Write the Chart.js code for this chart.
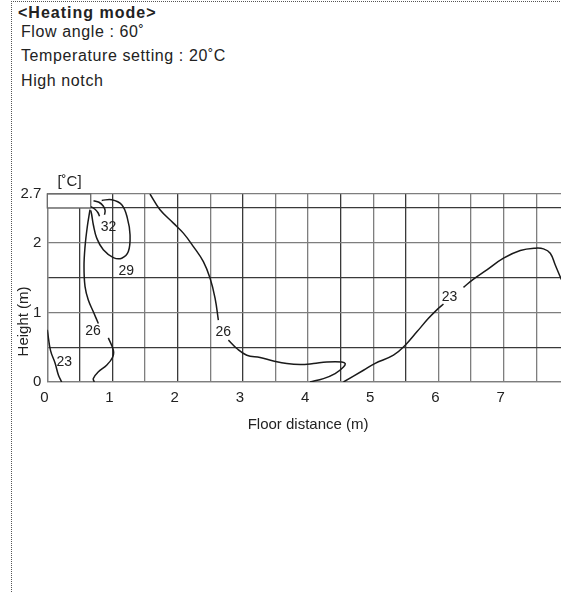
<!DOCTYPE html>
<html>
  <head>
    <meta charset="utf-8">
    <title>Heating mode</title>
    <script src="https://cdn.jsdelivr.net/npm/chart.js@4.4.1/dist/chart.umd.min.js"></script>
    <style>
      html, body {
        margin: 0;
        padding: 0;
        width: 561px;
        height: 592px;
        overflow: hidden;
        background: #fff;
        font-family: 'Liberation Sans', Arial, sans-serif;
        color: #222;
      }
      .frame {
        position: absolute;
        left: 11px;
        top: 1px;
        width: 620px;
        height: 640px;
        border-top: 1px dotted #555;
        border-left: 1px dotted #555;
      }
      .line {
        position: absolute;
        font-size: 16px;
        line-height: 16px;
        white-space: nowrap;
        letter-spacing: 0.6px;
      }
      .head {
        font-weight: bold;
        letter-spacing: 1px;
      }
      .chart {
        position: absolute;
        left: 0;
        top: 150px;
      }
    </style>
  </head>
  <body>
    <div class="frame"></div>
    <div class="line head" style="left:18px; top:5px;">&lt;Heating mode&gt;</div>
    <div class="line" style="left:21px; top:24px;">Flow angle : 60˚</div>
    <div class="line" style="left:21px; top:48px;">Temperature setting : 20˚C</div>
    <div class="line" style="left:21px; top:73px;">High notch</div>

    <div class="chart">
      <canvas id="myChart" width="580" height="284"></canvas>
    </div>

    <script>
      // axis ticks
      const xTicks = [0, 0.5, 1, 1.5, 2, 2.5, 3, 3.5, 4, 4.5, 5, 5.5, 6, 6.5, 7, 7.5, 8];
      const yTicks = [0, 0.5, 1, 1.5, 2, 2.5, 2.7];
      const yTickLabels = ['0', '', '1', '', '2', '', '2.7'];

      // isotherm lines, [floor distance m, height m]
      const iso23Left = [[0.0, 0.75], [0.05, 0.45], [0.12, 0.27], [0.17, 0.10], [0.22, 0.0]];
      const iso26LeftTop = [[0.655, 2.474], [0.614, 2.233], [0.579, 1.945], [0.563, 1.657], [0.579, 1.369],
        [0.629, 1.177], [0.706, 1.009], [0.783, 0.841]];
      const iso26LeftLow = [[0.936, 0.634], [1.013, 0.457], [1.004, 0.36], [0.91, 0.24], [0.78, 0.144],
        [0.706, 0.05], [0.72, 0.0]];
      const iso29 = [[0.835, 2.608], [0.988, 2.618], [1.142, 2.546], [1.228, 2.354], [1.269, 2.114],
        [1.243, 1.873], [1.142, 1.778], [1.013, 1.787], [0.859, 1.898], [0.758, 2.066], [0.706, 2.258],
        [0.681, 2.402], [0.666, 2.464]];
      const iso32a = [[0.709, 2.604], [0.793, 2.582], [0.855, 2.532], [0.886, 2.467], [0.878, 2.402]];
      const iso32b = [[0.671, 2.517], [0.732, 2.481], [0.778, 2.431], [0.801, 2.380]];
      const iso26MidTop = [[1.575, 2.70], [1.729, 2.474], [1.934, 2.282], [2.087, 2.138], [2.241, 1.945],
        [2.394, 1.729], [2.497, 1.49], [2.574, 1.202], [2.624, 0.889]];
      const iso26MidLow = [[2.778, 0.601], [2.907, 0.481], [3.06, 0.385], [3.264, 0.352], [3.468, 0.303],
        [3.674, 0.265], [3.878, 0.251], [4.082, 0.265], [4.288, 0.288], [4.518, 0.288], [4.569, 0.265],
        [4.543, 0.216], [4.415, 0.121], [4.236, 0.049], [4.03, 0.0]];
      const iso23RightLow = [[4.543, 0.0], [4.85, 0.169], [5.022, 0.265], [5.31, 0.385], [5.49, 0.529],
        [5.669, 0.72], [5.847, 0.914], [6.0, 1.058], [6.077, 1.12]];
      const iso23RightTop = [[6.384, 1.36], [6.538, 1.476], [6.743, 1.61], [6.998, 1.778], [7.255, 1.888],
        [7.485, 1.922], [7.612, 1.912], [7.715, 1.85], [7.792, 1.68], [7.884, 1.476], [7.95, 1.36]];

      // labels on the lines
      const labelText = ['23', '26', '29', '32', '26', '23'];
      const labelX = [0.26, 0.70, 1.21, 0.94, 2.70, 6.17];
      const labelY = [0.29, 0.73, 1.595, 2.22, 0.72, 1.225];

      // indoor unit box
      const unitBox = { x0: 0, x1: 0.666, y0: 2.5, y1: 2.7 };

      const lines = [iso23Left, iso26LeftTop, iso26LeftLow, iso29, iso32a, iso32b,
        iso26MidTop, iso26MidLow, iso23RightLow, iso23RightTop];

      const darkX = [0.5, 1, 2, 3, 4.5, 5.5];
      const dark = '#3a3a3a';
      const gray = '#7e7e7e';

      Chart.defaults.font.family = "'Liberation Sans', Arial, sans-serif";
      Chart.defaults.color = '#222';

      const extras = {
        id: 'extras',
        beforeDatasetsDraw(chart) {
          const ctx = chart.ctx;
          const xs = chart.scales.x, ys = chart.scales.y;
          const l = xs.getPixelForValue(unitBox.x0), r = xs.getPixelForValue(unitBox.x1);
          const t = ys.getPixelForValue(unitBox.y1), b = ys.getPixelForValue(unitBox.y0);
          ctx.save();
          ctx.fillStyle = '#fff';
          ctx.fillRect(l, t, r - l, b - t);
          ctx.strokeStyle = '#666';
          ctx.lineWidth = 1.3;
          ctx.strokeRect(l, t, r - l, b - t);
          ctx.fillStyle = '#222';
          ctx.font = "15px 'Liberation Sans', Arial, sans-serif";
          ctx.textAlign = 'center';
          ctx.textBaseline = 'middle';
          ctx.fillText('[˚C]', (l + r) / 2 + 0.5, t - 12);
          ctx.restore();
        },
        afterDatasetsDraw(chart) {
          const ctx = chart.ctx;
          const xs = chart.scales.x, ys = chart.scales.y;
          ctx.save();
          ctx.font = "14px 'Liberation Sans', Arial, sans-serif";
          ctx.fillStyle = '#222';
          ctx.textAlign = 'center';
          ctx.textBaseline = 'middle';
          labelText.forEach((t, i) => {
            ctx.fillText(t, xs.getPixelForValue(labelX[i]), ys.getPixelForValue(labelY[i]));
          });
          // y axis title
          ctx.font = "15px 'Liberation Sans', Arial, sans-serif";
          ctx.translate(chart.chartArea.left - 23, ys.getPixelForValue(0.87));
          ctx.rotate(-Math.PI / 2);
          ctx.fillText('Height (m)', 0, 0);
          ctx.restore();
        }
      };

      const myChart = new Chart(document.getElementById('myChart'), {
        type: 'scatter',
        data: {
          datasets: lines.map(pts => ({
            data: pts.map(p => ({ x: p[0], y: p[1] })),
            showLine: true,
            borderColor: '#1a1a1a',
            borderWidth: 1.5,
            pointRadius: 0,
            tension: 0.4,
            fill: false
          }))
        },
        plugins: [extras],
        options: {
          responsive: false,
          animation: false,
          events: [],
          layout: { padding: { top: 44, right: 11, bottom: 0, left: 0 } },
          scales: {
            x: {
              type: 'linear',
              min: 0,
              max: 8,
              afterBuildTicks: s => { s.ticks = xTicks.map(v => ({ value: v })); },
              afterFit: s => { s.height = 52; },
              grid: {
                drawTicks: false,
                lineWidth: 1.3,
                color: c => (c.tick && darkX.includes(c.tick.value)) ? dark : gray
              },
              border: { color: gray, width: 1.3 },
              ticks: {
                padding: 7,
                labelOffset: -3,
                font: { size: 15 },
                color: '#222',
                callback: v => Number.isInteger(v) ? String(v) : ''
              },
              title: {
                display: true,
                text: 'Floor distance (m)',
                font: { size: 15 },
                color: '#222',
                padding: { top: 4, bottom: 0 }
              }
            },
            y: {
              type: 'linear',
              min: 0,
              max: 2.7,
              afterBuildTicks: s => { s.ticks = yTicks.map(v => ({ value: v })); },
              afterFit: s => { s.width = 47.3; },
              grid: {
                drawTicks: false,
                lineWidth: 1.3,
                color: c => (c.tick && (c.tick.value === 0.5 || c.tick.value === 1.5 || c.tick.value === 2.5)) ? dark : gray
              },
              border: { color: gray, width: 1.3 },
              ticks: {
                padding: 6,
                font: { size: 15 },
                color: '#222',
                callback: (v, i) => yTickLabels[i]
              }
            }
          },
          plugins: {
            legend: { display: false },
            tooltip: { enabled: false },
            title: { display: false }
          }
        }
      });
    </script>
  </body>
</html>
